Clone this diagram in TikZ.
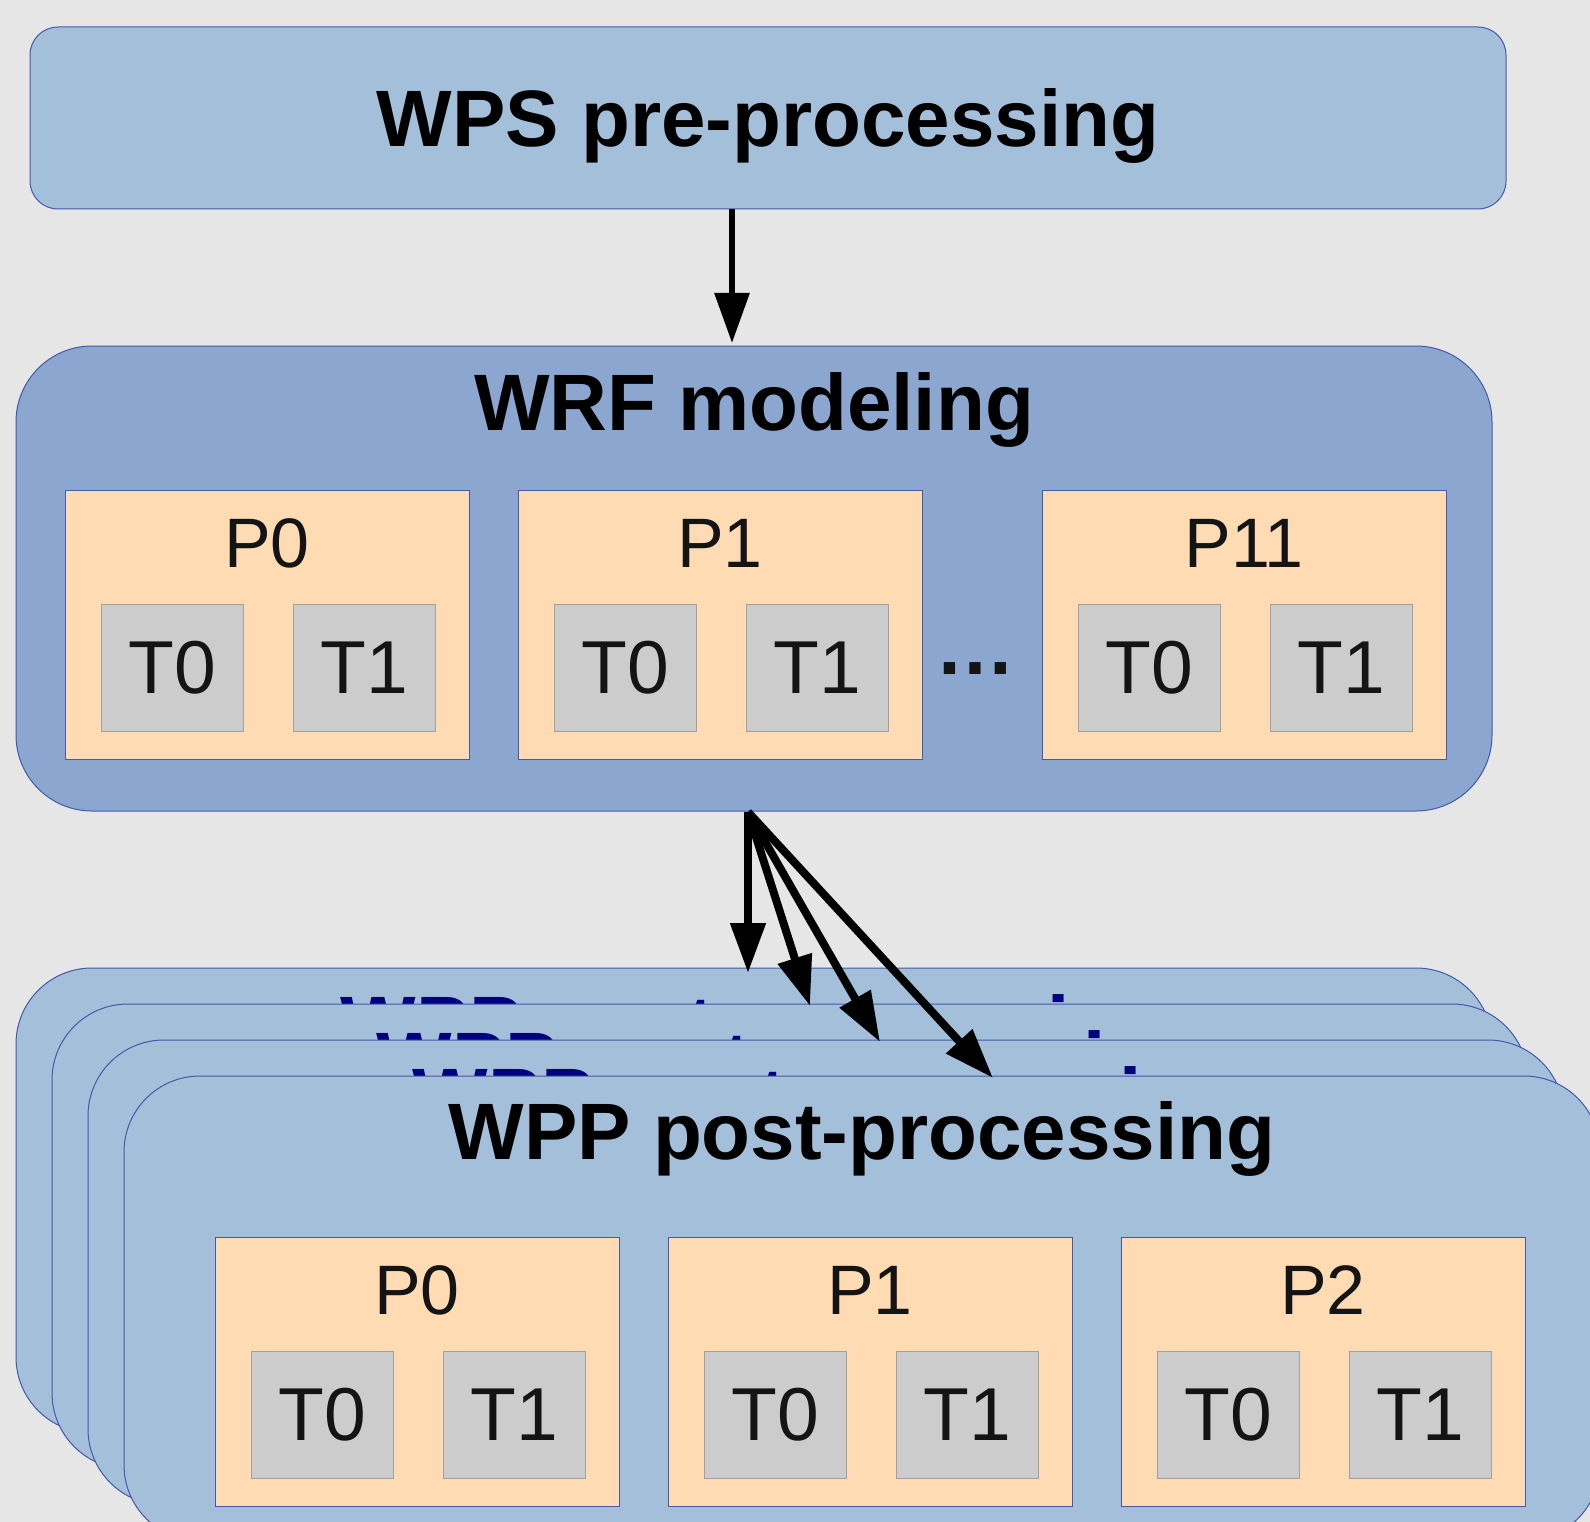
\documentclass[tikz,border=0pt]{standalone}
\usepackage{fontspec}
\setmainfont{Liberation Sans}
\usetikzlibrary{arrows.meta,calc}
\definecolor{bgc}{HTML}{E6E6E6}
\definecolor{lightblue}{HTML}{A3BFDA}
\definecolor{midblue}{HTML}{8BA6CF}
\definecolor{edgeblue}{HTML}{4459A8}
\definecolor{peach}{HTML}{FEDBB2}
\definecolor{tgray}{HTML}{CCCCCC}
\definecolor{tedge}{HTML}{A0A0A0}
\definecolor{ink}{HTML}{141414}
\definecolor{navyc}{HTML}{000080}
\newcommand\procbox[4]{%
  \node[pbox] (#1) at (#2,#3) {};
  \node[plabel] (#1l) at ($(#1.north)+(0,77)$) {#4};
  \node[tbox] (#1a) at ($(#1.north west)+(36,114)$) {T0};
  \node[tbox] (#1b) at ($(#1.north west)+(228,114)$) {T1};
}
\begin{document}
\begin{tikzpicture}[x=1pt,y=-1pt,
  bigbox/.style={draw=edgeblue,line width=1pt,inner sep=0pt,outer sep=0pt,
    minimum width=1476pt,anchor=north west},
  wpsbox/.style={bigbox,fill=lightblue,rounded corners=28pt,minimum height=182pt},
  wrfbox/.style={bigbox,fill=midblue,rounded corners=76pt,minimum height=465pt},
  wppbox/.style={bigbox,fill=lightblue,rounded corners=76pt,minimum height=465pt},
  pbox/.style={draw=edgeblue,line width=0.9pt,fill=peach,inner sep=0pt,outer sep=0pt,
    minimum width=404pt,minimum height=269pt,anchor=north west},
  tbox/.style={draw=tedge,line width=1pt,fill=tgray,inner sep=0pt,outer sep=0pt,
    minimum width=142pt,minimum height=127pt,anchor=north west,text=ink,
    font=\fontsize{75}{90}\selectfont},
  plabel/.style={anchor=base,inner sep=0pt,text=ink,font=\fontsize{70}{84}\selectfont},
  title/.style={anchor=base,inner sep=0pt,font=\fontsize{80}{96}\selectfont\bfseries},
  arr/.style={-{Triangle[length=50pt,width=34pt]},line width=6pt},
  fan/.style={-{Triangle[length=50pt,width=34pt]},line width=8pt}
]
\useasboundingbox (0,0) rectangle (1590,1522);
\fill[bgc] (0,0) rectangle (1590,1522);
\clip (0,0) rectangle (1590,1522);

% WPS
\node[wpsbox] (wps) at (30,27) {};
\node[title] (wpst) at ($(wps.north)+(0,120)$) {WPS pre-processing};

% WRF
\node[wrfbox] (wrf) at (16,346) {};
\node[title] (wrft) at ($(wrf.north)+(0,84)$) {WRF modeling};
\procbox{wrfp0}{65}{490}{P0}
\procbox{wrfp1}{518}{490}{P1}
\procbox{wrfp11}{1042}{490}{P11}
\node[anchor=base,inner sep=0pt,text=ink,font=\fontsize{80}{96}\selectfont\bfseries] (dots) at (975,674) {…};

% WPP stack
\node[wppbox] (wpp1) at (16,968) {};
\node[title,text=navyc] (wpp1t) at ($(wpp1.north)+(0,84)$) {WPP post-processing};
\node[wppbox] (wpp2) at (52,1004) {};
\node[title,text=navyc] (wpp2t) at ($(wpp2.north)+(0,84)$) {WPP post-processing};
\node[wppbox] (wpp3) at (88,1040) {};
\node[title,text=navyc] (wpp3t) at ($(wpp3.north)+(0,84)$) {WPP post-processing};
\node[wppbox] (wpp4) at (124,1076) {};
\node[title] (wpp4t) at ($(wpp4.north)+(0,83)$) {WPP post-processing};
\procbox{wppp0}{215}{1237}{P0}
\procbox{wppp1}{668}{1237}{P1}
\procbox{wppp2}{1121}{1237}{P2}

% arrows
\draw[arr] ($(wps.south)+(-36,0)$) -- ($(wrf.north)+(-22,-3)$);
\coordinate (fanstart) at ($(wrf.south)+(-6,1)$);
\draw[fan] (fanstart) -- ($(wpp1.north)+(-6,5)$);
\draw[fan] (fanstart) -- ($(wpp2.north)+(20,2)$);
\draw[fan] (fanstart) -- ($(wpp3.north)+(54,2)$);
\draw[fan] (fanstart) -- ($(wpp4.north)+(131,2)$);
\end{tikzpicture}
\end{document}
